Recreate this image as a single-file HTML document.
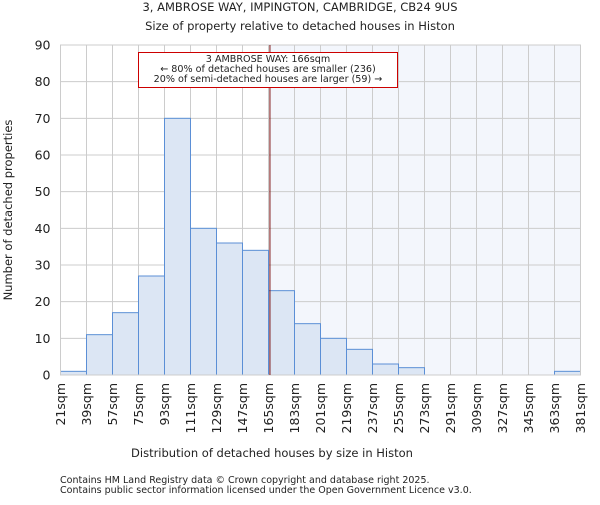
<!DOCTYPE html>
<html><head><meta charset="utf-8"><style>
body{margin:0;background:#fff}
svg text{font-family:"DejaVu Sans","Liberation Sans",sans-serif;fill:#222}
</style></head><body>
<svg id="c" width="600" height="500">
<text x="300" y="11" text-anchor="middle" font-size="11.5">3, AMBROSE WAY, IMPINGTON, CAMBRIDGE, CB24 9US</text>
<text x="300" y="30" text-anchor="middle" font-size="11.5">Size of property relative to detached houses in Histon</text>
<g id="plot"></g>
<text x="272" y="457" text-anchor="middle" font-size="11.5">Distribution of detached houses by size in Histon</text>
<text transform="translate(12,210) rotate(-90)" text-anchor="middle" font-size="11.5">Number of detached properties</text>
<text x="60" y="483" font-size="9.5" fill="#444">Contains HM Land Registry data © Crown copyright and database right 2025.</text>
<text x="60" y="493" font-size="9.5" fill="#444">Contains public sector information licensed under the Open Government Licence v3.0.</text>
</svg>
<script>
const binEdges=[21,39,57,75,93,111,129,147,165,183,201,219,237,255,273,291,309,327,345,363,381];
const counts=[1,11,17,27,70,40,36,34,23,14,10,7,3,2,0,0,0,0,0,1];
const yTicks=[0,10,20,30,40,50,60,70,80,90];
const markerValue=166;
const NS="http://www.w3.org/2000/svg";
const L=60.5,R=580.5,T=45,B=375;
const xs=v=>L+(v-21)/(381-21)*(R-L);
const ys=v=>B-v/90*(B-T);
const g=document.getElementById('plot');
function mk(tag,a){const e=document.createElementNS(NS,tag);for(const k in a)e.setAttribute(k,a[k]);g.appendChild(e);return e;}
let e;
e=mk('rect',{x:xs(markerValue),y:T,width:R-xs(markerValue),height:B-T,fill:'#f3f6fc'});


yTicks.forEach(t=>{
 e=mk('line',{x1:L,x2:R,y1:ys(t),y2:ys(t),stroke:'#ccc'});
 
 
 e=mk('text',{x:L-10,y:ys(t)+4.5,'text-anchor':'end','font-size':12.5});
 e.textContent=t;
 
 
});
binEdges.forEach(b=>{
 e=mk('line',{x1:xs(b),x2:xs(b),y1:T,y2:B,stroke:'#ccc'});
 
 
 e=mk('text',{transform:`translate(${xs(b)+4.5},383) rotate(-90)`,'text-anchor':'end','font-size':12.5});
 e.textContent=b+'sqm';
 
 
});
counts.forEach((c,i)=>{
 if(c<=0)return;
 e=mk('rect',{x:xs(binEdges[i]),y:ys(c),width:xs(binEdges[i+1])-xs(binEdges[i]),height:B-ys(c),fill:'#dce6f4',stroke:'#5b8fd6','stroke-width':1});
 
 
});
e=mk('rect',{x:L,y:T,width:R-L,height:B-T,fill:'none',stroke:'#ccc'});


e=mk('line',{x1:xs(markerValue),x2:xs(markerValue),y1:T,y2:B,stroke:'#7a1010','stroke-width':1});


e=mk('rect',{x:138.5,y:52.5,width:259,height:35,fill:'#fff',stroke:'#c00'});


['3 AMBROSE WAY: 166sqm','← 80% of detached houses are smaller (236)','20% of semi-detached houses are larger (59) →'].forEach((s,i)=>{
 e=mk('text',{x:268,y:62+i*10,'text-anchor':'middle','font-size':9.6});
 e.textContent=s;
 
 
});
</script>
</body></html>
